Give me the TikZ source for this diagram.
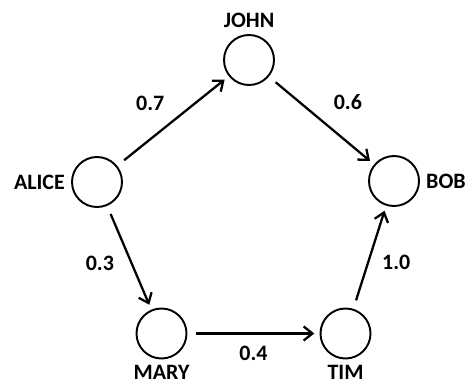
\documentclass[tikz,border=0pt]{standalone}
\usepackage{fontspec}
\setmainfont{Carlito}[UprightFont=* Bold]
\usetikzlibrary{arrows.meta,positioning}

\begin{document}
\begin{tikzpicture}[
  font=\fontsize{12.5}{15}\selectfont,
  person/.style={draw, circle, minimum size=1cm, line width=1.1pt,
    label distance=1.5pt},
  arr/.style={-{Straight Barb[length=5pt, width=8pt]}, line width=1.3pt,
    shorten <=5pt, shorten >=3pt}
]
\useasboundingbox (0,0) rectangle (9.36,7.7);
\node[person, label=above:JOHN] (john) at (4.98,6.5) {};
\node[person, label=left:ALICE] (alice) at (1.94,4.06) {};
\node[person, label=right:BOB] (bob) at (7.88,4.08) {};
\node[person, label=below:MARY] (mary) at (3.23,1.03) {};
\node[person, label=below:TIM] (tim) at (6.91,1.03) {};
\draw[arr] (alice) -- node[above left=2pt and 1pt] {0.7} (john);
\draw[arr] (john) -- node[above right=2pt and 3pt] {0.6} (bob);
\draw[arr] (alice) -- node[pos=0.55, left=6pt] {0.3} (mary);
\draw[arr] (mary) -- node[below=3pt] {0.4} (tim);
\draw[arr] (tim) -- node[pos=0.45, right=4pt] {1.0} (bob);
\end{tikzpicture}
\end{document}
